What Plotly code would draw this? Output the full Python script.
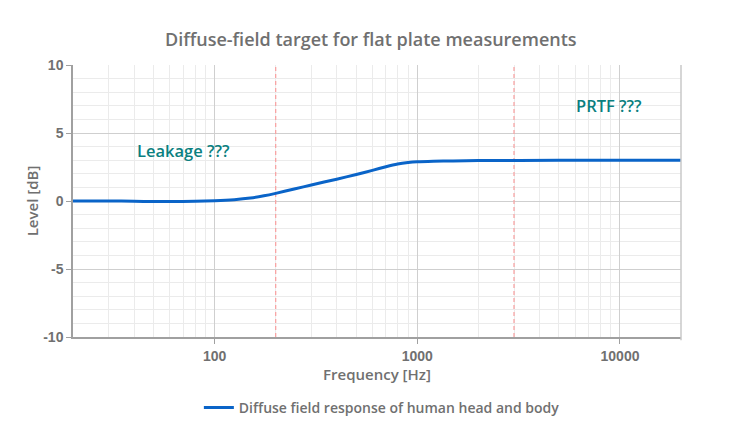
import numpy as np
import plotly.graph_objects as go

# diffuse-field target
freq_hz = [20, 30, 40, 50, 60, 80, 100, 125, 150, 175, 200, 250, 300, 400,
           500, 600, 700, 800, 900, 1000, 1200, 1500, 2000, 5000, 10000, 20000]
level_db = [0.0, 0.0, -0.02, -0.04, -0.04, -0.02, 0.02, 0.1, 0.22, 0.38, 0.56,
            0.9, 1.18, 1.6, 1.95, 2.25, 2.52, 2.72, 2.83, 2.89, 2.93, 2.95, 2.97, 3.0, 3.0, 3.0]
series_name = "Diffuse field response of human head and body"

marker_freqs = [200, 3000]
notes = [("Leakage ???", 70, 3.75), ("PRTF ???", 8800, 7.0)]

x_major = [100, 1000, 10000]
y_major = [-10, -5, 0, 5, 10]

grey = "#707070"
ui_font = "Open Sans"
minor_x = [k * 10 ** d for d in range(1, 5) for k in range(2, 10) if 20 <= k * 10 ** d <= 20000]
minor_y = [v for v in range(-10, 11) if v % 5 != 0]

fig = go.Figure()

# dashed band markers, drawn as traces so they sit above the grid
for f in marker_freqs:
    fig.add_trace(go.Scatter(
        x=[f, f], y=[y_major[0], y_major[-1]], mode="lines", showlegend=False,
        hoverinfo="skip", line=dict(color="#f8a4a4", width=1.3, dash="4px,3px"),
    ))

fig.add_trace(go.Scatter(
    x=freq_hz, y=level_db, mode="lines", name=series_name,
    line=dict(color="#0a64c8", width=3, shape="spline", smoothing=0.5),
))

# right-hand frame line
fig.add_shape(type="line", x0=1, x1=1, xref="paper", y0=-0.012, y1=1, yref="paper",
              line=dict(color="#c8c8c8", width=1.5))

for text, x, y in notes:
    fig.add_annotation(x=np.log10(x), y=y, text=text, showarrow=False,
                       font=dict(family=ui_font, size=16.5, weight=600, color="#0b7f7f"))

tick_font = dict(family="Liberation Sans", size=14, weight="bold", color=grey)
title_font = dict(family=ui_font, size=15, weight=600, color=grey)

fig.update_xaxes(
    type="log", range=[np.log10(20), np.log10(20000)],
    tickvals=x_major, ticktext=[str(v) for v in x_major],
    showgrid=True, gridcolor="#cfcfcf", gridwidth=1,
    minor=dict(tickvals=minor_x, showgrid=True, gridcolor="#ebebeb", gridwidth=1),
    showline=True, linecolor="#a0a0a0", linewidth=1.5,
    ticks="outside", ticklen=5, tickcolor="#a0a0a0",
    tickfont=tick_font,
    title=dict(text="Frequency [Hz]", font=title_font, standoff=7),
    zeroline=False,
)
fig.update_yaxes(
    range=[-10, 10], tickvals=y_major, ticktext=[str(v) for v in y_major],
    showgrid=True, gridcolor="#cfcfcf", gridwidth=1,
    minor=dict(tickvals=minor_y, showgrid=True, gridcolor="#ebebeb", gridwidth=1),
    showline=True, linecolor="#a0a0a0", linewidth=1.5,
    ticks="outside", ticklen=5, tickcolor="#a0a0a0",
    tickfont=tick_font,
    title=dict(text="Level [dB]", font=title_font, standoff=1),
    zeroline=False,
)

fig.update_layout(
    width=730, height=440,
    margin=dict(l=65, r=57, t=57, b=111, autoexpand=False),
    plot_bgcolor="white", paper_bgcolor="white",
    title=dict(text="Diffuse-field target for flat plate measurements",
               x=0.497, xanchor="center", y=0.927, yanchor="middle",
               font=dict(family=ui_font, size=18, weight=600, color=grey)),
    showlegend=True,
    legend=dict(orientation="h", x=0.508, xanchor="center", y=-0.261, yanchor="middle",
                font=dict(family=ui_font, size=14, weight=600, color=grey)),
)

fig.write_html("out.html")
